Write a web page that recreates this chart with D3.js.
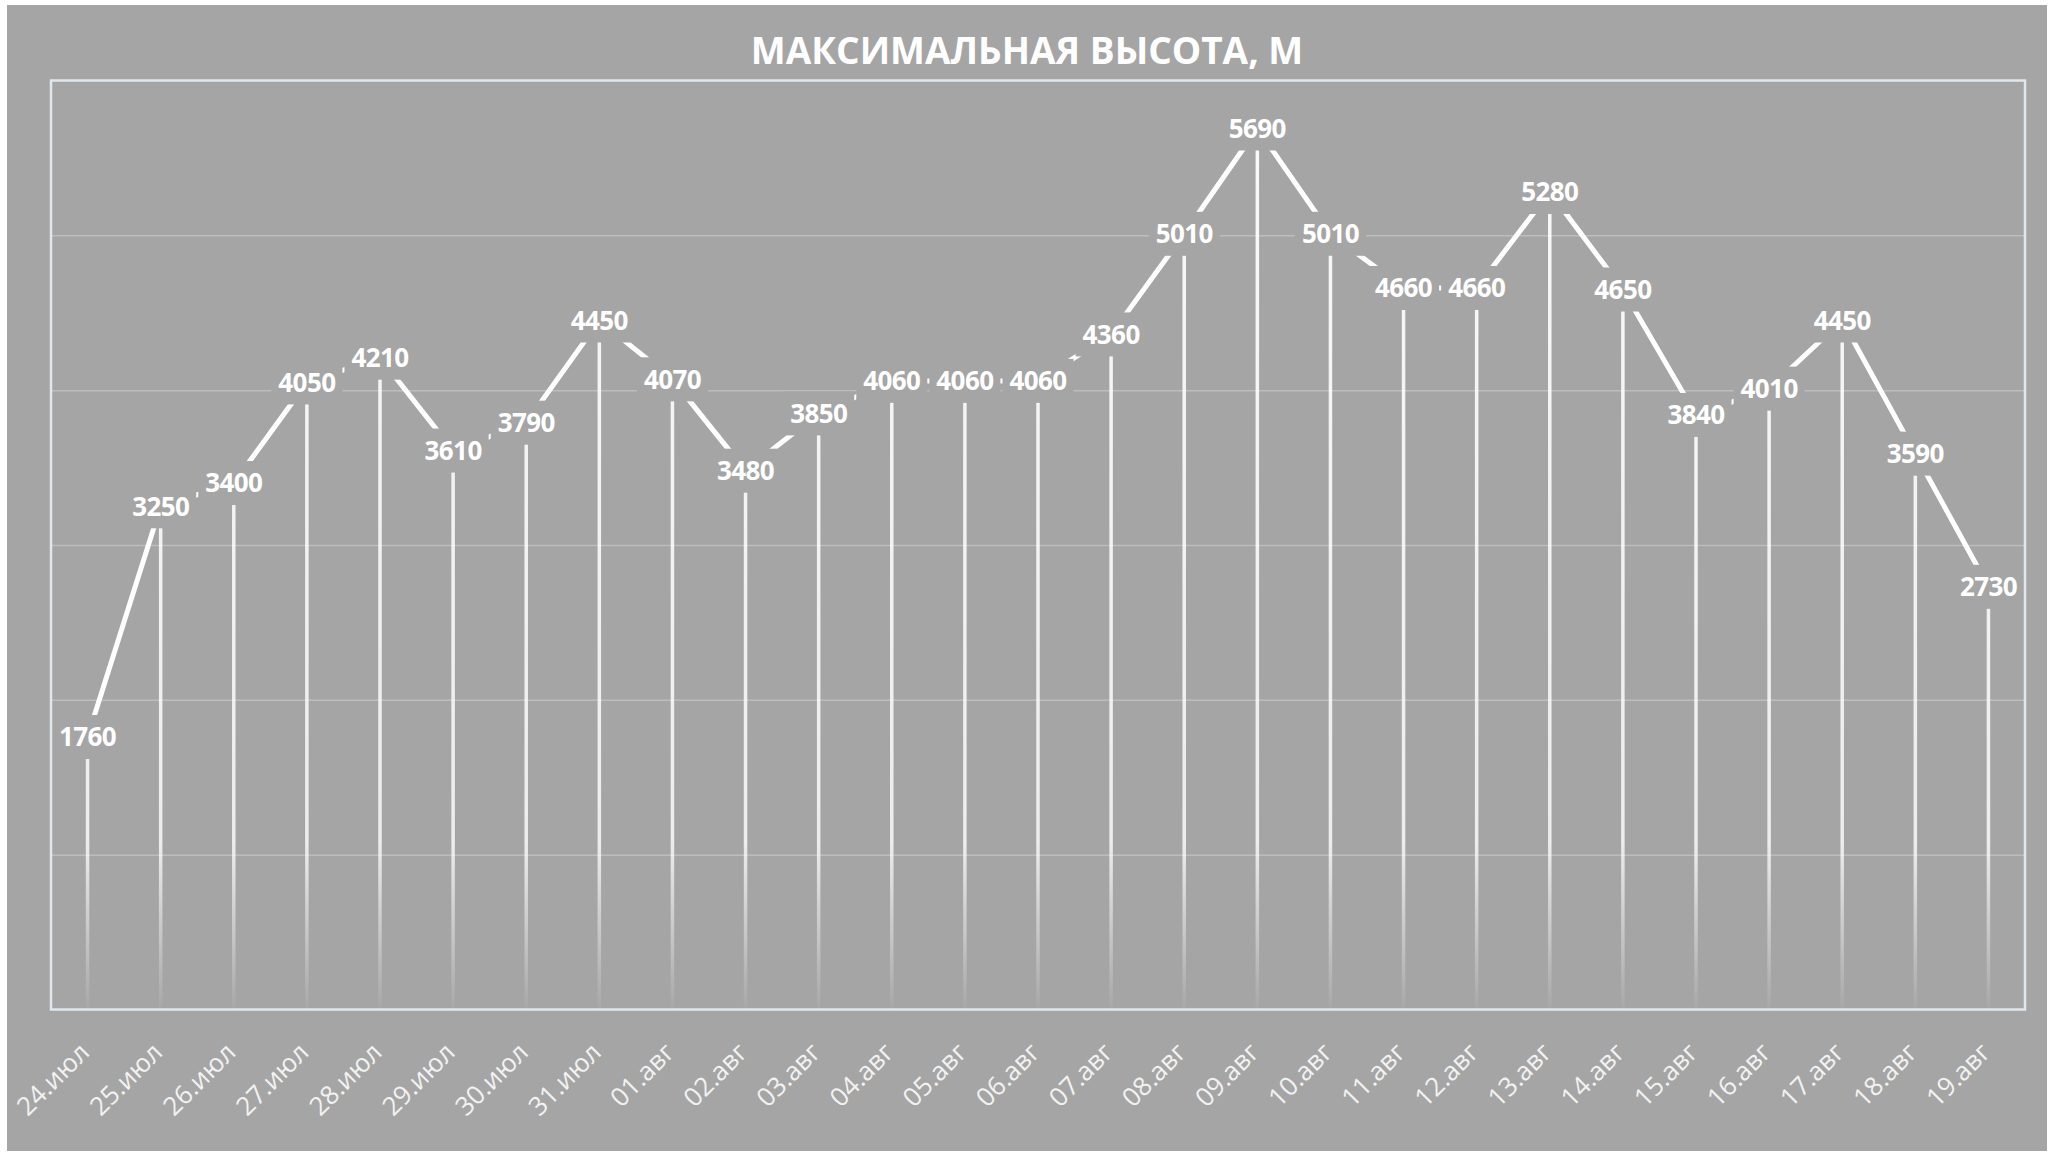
<!DOCTYPE html>
<html>
<head>
<meta charset="utf-8">
<script src="https://cdn.jsdelivr.net/npm/d3@7"></script>
<style>
	body { margin: 0; background: #ffffff; }
	svg { display: block; }
</style>
</head>
<body>
<div id="chart-area"></div>
<script>

// данные: максимальная высота по дням
const dates = ["24.июл", "25.июл", "26.июл", "27.июл", "28.июл", "29.июл", "30.июл", "31.июл",
	"01.авг", "02.авг", "03.авг", "04.авг", "05.авг", "06.авг", "07.авг", "08.авг", "09.авг",
	"10.авг", "11.авг", "12.авг", "13.авг", "14.авг", "15.авг", "16.авг", "17.авг", "18.авг", "19.авг"];
const heights = [1760, 3250, 3400, 4050, 4210, 3610, 3790, 4450,
	4070, 3480, 3850, 4060, 4060, 4060, 4360, 5010, 5690,
	5010, 4660, 4660, 5280, 4650, 3840, 4010, 4450, 3590, 2730];
const yTicks = [0, 1000, 2000, 3000, 4000, 5000, 6000];
const title = "МАКСИМАЛЬНАЯ ВЫСОТА, М";

const width = 2056;
const height = 1154;
const margin = {top: 80.5, right: 31, bottom: 144.5, left: 51};
const bg = "#a5a5a5";

var data = dates.map((d, i) => ({Date: d, Value: heights[i]}));

var svg = d3.select("#chart-area").append("svg")
	.attr("width", width)
	.attr("height", height);

// фон диаграммы
svg.append("rect")
	.attr("x", 7).attr("y", 5)
	.attr("width", 2040).attr("height", 1146)
	.attr("fill", bg);

var x = d3.scaleBand()
	.domain(dates)
	.range([margin.left, width - margin.right]);

var y = d3.scaleLinear()
	.domain([0, d3.max(yTicks)])
	.range([height - margin.bottom, margin.top]);

var cx = d => x(d.Date) + x.bandwidth() / 2;

// градиент для вертикальных линий
var grad = svg.append("defs").append("linearGradient")
	.attr("id", "dropFade")
	.attr("gradientUnits", "userSpaceOnUse")
	.attr("x1", 0).attr("x2", 0)
	.attr("y1", y(6000)).attr("y2", y(0));
grad.append("stop").attr("offset", 0).attr("stop-color", "#fff").attr("stop-opacity", 0.95);
grad.append("stop").attr("offset", 0.82).attr("stop-color", "#fff").attr("stop-opacity", 0.8);
grad.append("stop").attr("offset", 1).attr("stop-color", "#fff").attr("stop-opacity", 0.03);

function renderGrid() {
	svg.append("g")
		.attr("transform", `translate(${margin.left},0)`)
		.call(d3.axisLeft(y).tickValues(yTicks.slice(1, -1)).tickSize(-(width - margin.left - margin.right)).tickFormat(""))
		.call(g => g.select(".domain").remove())
		.call(g => g.selectAll(".tick line").attr("stroke", "#bdbdbd").attr("stroke-width", 1.5));
}

function renderLines() {
	// вертикальные линии от точек вниз
	svg.selectAll(".drop")
		.data(data)
		.enter().append("line")
		.attr("class", "drop")
		.attr("x1", cx).attr("x2", cx)
		.attr("y1", d => y(d.Value))
		.attr("y2", y(0))
		.attr("stroke", "url(#dropFade)")
		.attr("stroke-width", 3.5);

	var line = d3.line()
		.x(cx)
		.y(d => y(d.Value));

	svg.append("path")
		.datum(data)
		.attr("fill", "none")
		.attr("stroke", "#ffffff")
		.attr("stroke-width", 5)
		.attr("d", line);
}

function renderLabels() {
	var lab = svg.selectAll(".lab")
		.data(data)
		.enter().append("g")
		.attr("class", "lab")
		.attr("transform", d => `translate(${cx(d)},${y(d.Value)})`);

	lab.append("text")
		.attr("text-anchor", "middle")
		.attr("dy", "0.36em")
		.attr("fill", "#ffffff")
		.style("font-family", "'Open Sans', sans-serif")
		.style("font-weight", "bold")
		.style("font-size", "26px")
		.style("letter-spacing", "-0.6px")
		.text(d => d.Value);

	// фон подписи закрывает линии
	lab.insert("rect", "text")
		.each(function() {
			var w = this.parentNode.querySelector("text").getComputedTextLength();
			d3.select(this)
				.attr("x", -w / 2 - 7)
				.attr("y", -22)
				.attr("width", w + 14)
				.attr("height", 44)
				.attr("fill", bg);
		});
}

function renderAxis() {
	svg.append("g")
		.attr("class", "x-axis")
		.attr("transform", `translate(0,${y(0)})`)
		.call(d3.axisBottom(x).tickSize(0).tickPadding(0))
		.call(g => g.select(".domain").remove())
		.selectAll("text")
		.attr("fill", "#f2f2f2")
		.style("font-family", "'Open Sans', sans-serif")
		.style("font-size", "26px")
		.attr("text-anchor", "end")
		.attr("dy", "0.35em")
		.attr("y", 0)
		.attr("transform", "translate(-3,38) rotate(-45)");

	// рамка области построения
	svg.append("rect")
		.attr("x", margin.left)
		.attr("y", margin.top)
		.attr("width", width - margin.left - margin.right)
		.attr("height", height - margin.top - margin.bottom)
		.attr("fill", "none")
		.attr("stroke", "#e1e7ee")
		.attr("stroke-width", 2.5);

	svg.append("text")
		.attr("x", 1027)
		.attr("y", 64)
		.attr("text-anchor", "middle")
		.attr("fill", "#ffffff")
		.style("font-family", "'Open Sans', sans-serif")
		.style("font-weight", "bold")
		.style("font-size", "37px")
		.text(title);
}

renderGrid();
renderLines();
renderLabels();
renderAxis();

</script>
</body>
</html>
